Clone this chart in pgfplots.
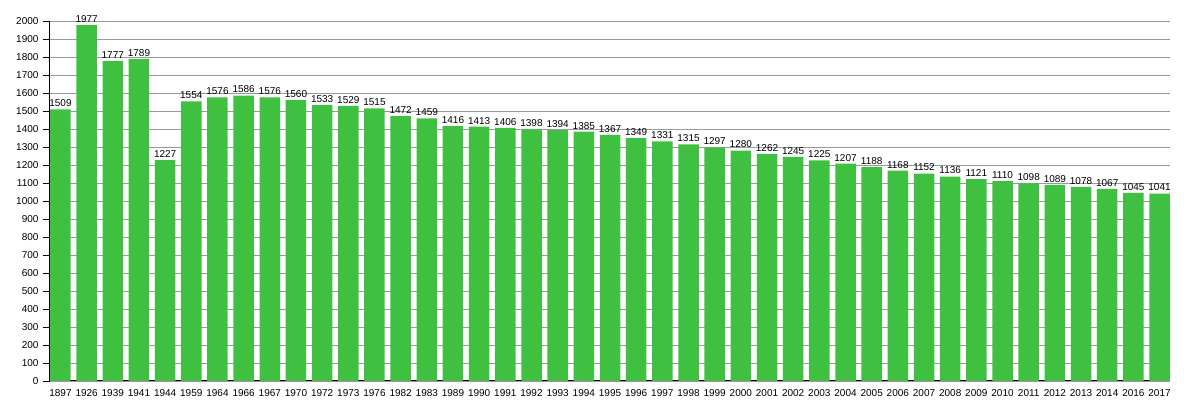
\documentclass[border=0pt]{standalone}
\usepackage{pgfplots}
\pgfplotsset{compat=1.18}
\usepackage{fontspec}
\setmainfont{Liberation Sans}
\definecolor{bargreen}{RGB}{64,192,64}
\begin{document}
\begin{tikzpicture}[font=\fontsize{10}{12}\selectfont]
\begin{axis}[
  name=ax,
  scale only axis,
  width=1120pt, height=360pt,
  ymin=0, ymax=2000,
  ytick distance=100,
  xmin=-0.4, xmax=42.4,
  xtick=data,
  xticklabels={1897,1926,1939,1941,1944,1959,1964,1966,1967,1970,1972,1973,1976,1982,1983,1989,1990,1991,1992,1993,1994,1995,1996,1997,1998,1999,2000,2001,2002,2003,2004,2005,2006,2007,2008,2009,2010,2011,2012,2013,2014,2016,2017},
  x tick label style={yshift=2pt},
  axis x line*=bottom,
  axis y line*=left,
  axis line style={black, line width=1pt},
  ymajorgrids,
  grid style={gray!80, line width=0.8pt},
  xtick style={draw=none},
  ytick style={black, line width=0.8pt},
  tick align=outside,
  major tick length=7pt,
  y tick label style={xshift=-1pt},
  /pgf/number format/assume math mode=true,
  /pgf/number format/1000 sep={},
  ybar, bar width=20.5pt,
  nodes near coords,
  nodes near coords style={font=\fontsize{10}{12}\selectfont, /pgf/number format/1000 sep={}, /pgf/number format/assume math mode=true, yshift=-1pt},
  axis on top=false,
  clip=false,
]
\addplot[fill=bargreen, draw=none] coordinates {
(0,1509) (1,1977) (2,1777) (3,1789) (4,1227) (5,1554) (6,1576) (7,1586) (8,1576) (9,1560)
(10,1533) (11,1529) (12,1515) (13,1472) (14,1459) (15,1416) (16,1413) (17,1406) (18,1398) (19,1394)
(20,1385) (21,1367) (22,1349) (23,1331) (24,1315) (25,1297) (26,1280) (27,1262) (28,1245) (29,1225)
(30,1207) (31,1188) (32,1168) (33,1152) (34,1136) (35,1121) (36,1110) (37,1098) (38,1089) (39,1078)
(40,1067) (41,1045) (42,1041)
};
\end{axis}
\path ([shift={(-50pt,-19pt)}]ax.south west) rectangle ([shift={(30pt,21pt)}]ax.north east);
\end{tikzpicture}
\end{document}
